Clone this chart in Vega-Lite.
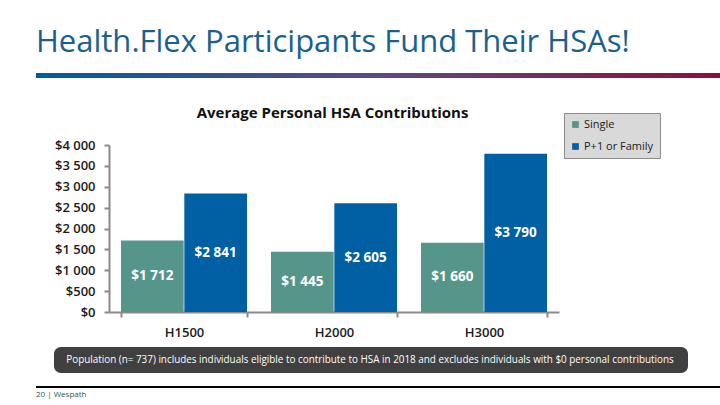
{"$schema":"https://vega.github.io/schema/vega-lite/v6.json","width":450,"height":167,"autosize":{"type":"none"},"padding":{"left":109,"right":161,"top":145,"bottom":93},"background":"white","config":{"view":{"stroke":null},"locale":{"number":{"decimal":".","thousands":" ","grouping":[3],"currency":["$",""]}}},"resolve":{"scale":{"y":"independent"}},"data":{"values":[{"plan":"H1500","coverage":"Single","value":1712},{"plan":"H1500","coverage":"P+1 or Family","value":2841},{"plan":"H2000","coverage":"Single","value":1445},{"plan":"H2000","coverage":"P+1 or Family","value":2605},{"plan":"H3000","coverage":"Single","value":1660},{"plan":"H3000","coverage":"P+1 or Family","value":3790}]},"encoding":{"x":{"field":"plan","type":"nominal","title":null,"scale":{"paddingInner":0.16,"paddingOuter":0.08},"axis":{"labelAngle":0,"tickBand":"extent","domainColor":"#8a8a8a","domainWidth":2,"tickColor":"#8a8a8a","tickWidth":2,"tickSize":5,"labelPadding":9,"labelFont":"Open Sans","labelFontSize":13,"labelFontWeight":600,"labelColor":"#1a1a1a"}},"xOffset":{"field":"coverage","type":"nominal","sort":["Single","P+1 or Family"],"scale":{"paddingInner":0.01}}},"layer":[{"mark":{"type":"bar"},"encoding":{"y":{"field":"value","type":"quantitative","title":null,"scale":{"domain":[0,4000]},"axis":{"values":[0,500,1000,1500,2000,2500,3000,3500,4000],"labelOverlap":false,"format":"$,.0f","grid":false,"domainColor":"#8a8a8a","domainWidth":2,"tickColor":"#8a8a8a","tickWidth":2,"tickSize":5,"labelPadding":9,"labelFont":"Open Sans","labelFontSize":13,"labelFontWeight":600,"labelColor":"#1a1a1a"}},"color":{"field":"coverage","type":"nominal","sort":["Single","P+1 or Family"],"scale":{"domain":["Single","P+1 or Family"],"range":["#56958a","#0060a3"]},"legend":{"title":null,"orient":"none","legendX":455,"legendY":-32,"fillColor":"#d9d9d9","strokeColor":"#8c8c8c","padding":6,"symbolType":"square","symbolSize":45,"rowPadding":10,"labelFont":"Open Sans","labelFontSize":11,"labelColor":"#1a1a1a","labelOffset":3,"symbolOpacity":1}}}},{"mark":{"type":"text","color":"white","font":"Open Sans","fontSize":13.5,"fontWeight":"bold","baseline":"middle"},"encoding":{"y":{"field":"value","type":"quantitative","scale":{"domain":[0,8000]},"axis":null},"text":{"field":"value","type":"quantitative","format":"$,.0f"}}},{"data":{"values":[{"note":"Health.Flex Participants Fund Their HSAs!"}]},"mark":{"type":"text","align":"left","baseline":"middle","font":"Open Sans","fontSize":31,"color":"#1b5f8f"},"encoding":{"x":{"value":-73},"xOffset":{"value":0},"y":{"value":-102},"text":{"field":"note"}}},{"data":{"values":[{"note":"Average Personal HSA Contributions"}]},"mark":{"type":"text","align":"center","baseline":"middle","font":"Open Sans","fontSize":15,"fontWeight":"bold","color":"#111111"},"encoding":{"x":{"value":223.5},"xOffset":{"value":0},"y":{"value":-32},"text":{"field":"note"}}},{"data":{"values":[{"note":"header rule"}]},"mark":{"type":"rect","color":{"gradient":"linear","x1":0,"x2":1,"y1":0,"y2":0,"stops":[{"offset":0,"color":"#005c9e"},{"offset":0.5,"color":"#5f4a80"},{"offset":1,"color":"#8a0f3c"}]}},"encoding":{"x":{"value":-73},"x2":{"value":611},"xOffset":{"value":0},"y":{"value":-72},"y2":{"value":-67}}},{"data":{"values":[{"note":"note box"}]},"mark":{"type":"rect","color":"#404040","cornerRadius":7},"encoding":{"x":{"value":-55},"x2":{"value":579},"xOffset":{"value":0},"y":{"value":202},"y2":{"value":228}}},{"data":{"values":[{"note":"Population (n= 737) includes individuals eligible to contribute to HSA in 2018 and excludes individuals with $0 personal contributions"}]},"mark":{"type":"text","align":"center","baseline":"middle","font":"Open Sans","fontSize":9.9,"color":"white"},"encoding":{"x":{"value":261},"xOffset":{"value":0},"y":{"value":215},"text":{"field":"note"}}},{"data":{"values":[{"note":"footer rule"}]},"mark":{"type":"rect","color":"#000000"},"encoding":{"x":{"value":-73},"x2":{"value":611},"xOffset":{"value":0},"y":{"value":241},"y2":{"value":243}}},{"data":{"values":[{"note":"20  |  Wespath"}]},"mark":{"type":"text","align":"left","baseline":"middle","font":"Open Sans","fontSize":8,"color":"#1d5a66"},"encoding":{"x":{"value":-73},"xOffset":{"value":0},"y":{"value":250},"text":{"field":"note"}}}]}
